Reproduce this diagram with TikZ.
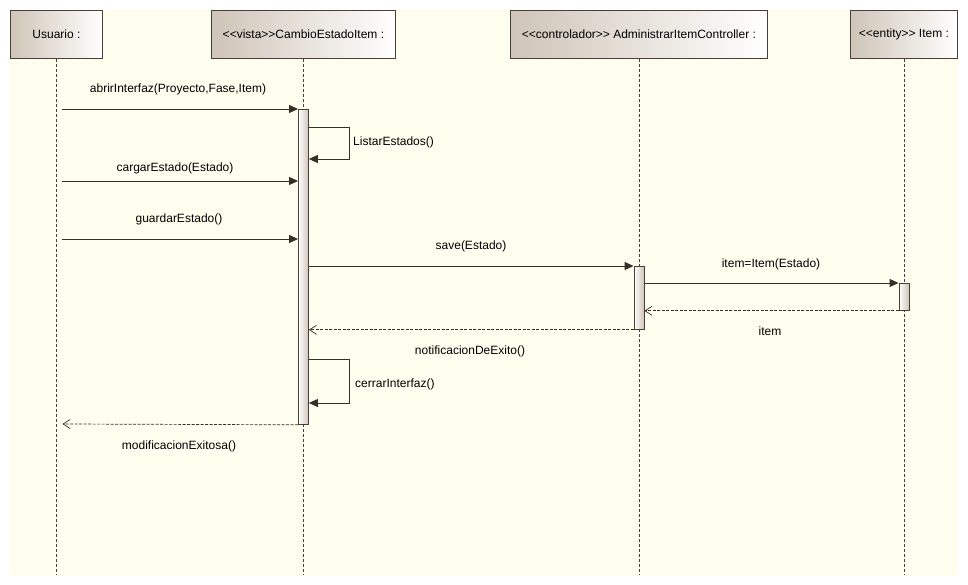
\documentclass[tikz,border=0pt]{standalone}
\usepackage{fontspec}
\setmainfont{Liberation Sans}[Ligatures=ResetAll]
\usetikzlibrary{arrows.meta}
\definecolor{bgy}{HTML}{FEFEEE}
\definecolor{lc}{HTML}{3A2E28}
\definecolor{bx}{HTML}{CFC5B8}
\definecolor{ll}{HTML}{4A3E38}
\newcommand\stl{<\kern0pt<}
\newcommand\stg{>\kern0pt>}
\begin{document}
\begin{tikzpicture}[x=1pt,y=-1pt,font=\fontsize{12}{14}\selectfont,
  head/.style={draw=ll,line width=0.9pt,left color=bx,right color=white,minimum height=48,inner sep=0,anchor=north west},
  life/.style={draw=ll,dashed,dash pattern=on 3pt off 2pt,line width=0.6pt},
  actbar/.style={draw=ll,line width=0.8pt,left color=white,right color=bx,minimum width=10,inner sep=0,anchor=north},
  msg/.style={draw=lc,line width=0.9pt,-{Triangle[length=9pt,width=8pt]}},
  ret/.style={draw=lc,line width=0.7pt,dashed,dash pattern=on 3pt off 1.5pt,-{Straight Barb[length=7pt,width=9pt,line width=0.7pt]}},
  lbl/.style={text=black,inner sep=0}]
\useasboundingbox (0,0) rectangle (968,585);
\fill[bgy] (10,10) rectangle (958,575);
% headers
\node[head,minimum width=92] (u) at (10,10) {Usuario :};
\node[head,minimum width=184] (v) at (211,10) {\stl vista\stg CambioEstadoItem :};
\node[head,minimum width=257] (c) at (510,10) {\stl controlador\stg{} AdministrarItemController :};
\node[head,minimum width=107] (e) at (850,10) {\stl entity\stg{} Item :};
% lifeline ends
\coordinate (ue) at (u.south |- 0,575);
\coordinate (ve) at (v.south |- 0,575);
\coordinate (ce) at (c.south |- 0,575);
\coordinate (ee) at (e.south |- 0,575);
\draw[life] (u.south) -- (ue);
\draw[life] (v.south) -- (ve);
\draw[life] (c.south) -- (ce);
\draw[life] (e.south) -- (ee);
% activation bars
\node[actbar,minimum height=315] (va) at (v.south |- 0,109) {};
\node[actbar,minimum height=63] (ca) at (c.south |- 0,266) {};
\node[actbar,minimum height=27] (ea) at (e.south |- 0,283) {};
% user start points
\coordinate (u1) at ([xshift=6]u.south |- 0,109);
\coordinate (u3) at ([xshift=6]u.south |- 0,181);
\coordinate (u4) at ([xshift=6]u.south |- 0,239);
\coordinate (u10) at ([xshift=6]u.south |- 0,424);
% messages
\draw[msg] (u1) -- (va.north west);
\node[lbl] (l1) at (178,89) {abrirInterfaz(Proyecto,Fase,Item)};
\draw[msg] (va.east |- 0,127) -- (349,127) -- (349,159) -- (va.east |- 0,159);
\node[lbl,anchor=west] (l2) at (353,142) {ListarEstados()};
\draw[msg] (u3) -- (va.west |- 0,181);
\node[lbl] (l3) at (175,168) {cargarEstado(Estado)};
\draw[msg] (u4) -- (va.west |- 0,239);
\node[lbl] (l4) at (179,219) {guardarEstado()};
\draw[msg] (va.east |- 0,266) -- (ca.north west);
\node[lbl] (l5) at (471,246) {save(Estado)};
\draw[msg] (ca.east |- 0,283) -- (ea.north west);
\node[lbl] (l6) at (771,264) {item=Item(Estado)};
\draw[ret] (ea.south west) -- (ca.east |- ea.south west);
\node[lbl] (l7) at (770,331) {item};
\draw[ret] (ca.south west) -- (va.east |- ca.south west);
\node[lbl] (l8) at (470,351) {notificacionDeExito()};
\draw[msg] (va.east |- 0,359) -- (349,359) -- (349,403) -- (va.east |- 0,403);
\node[lbl,anchor=west] (l9) at (355,384) {cerrarInterfaz()};
\draw[ret] (va.south west) -- (u10);
\node[lbl] (l10) at (179,446) {modificacionExitosa()};
\end{tikzpicture}
\end{document}
